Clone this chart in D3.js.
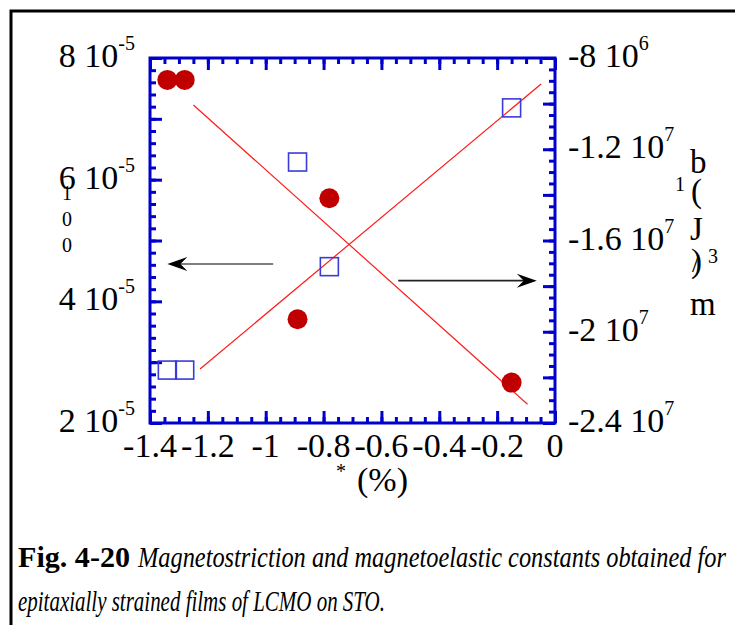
<!DOCTYPE html>
<html>
<head>
<meta charset="utf-8">
<script src="https://cdn.jsdelivr.net/npm/d3@7"></script>
<style>
  html, body { margin: 0; padding: 0; background: #fff; }
  svg { display: block; }
  text { font-family: "Liberation Serif", "Times New Roman", Times, serif; fill: #000; }
</style>
</head>
<body>
<svg id="chart" width="735" height="625"></svg>
<script>
// Strain (%) shared by both series
const strain = [-1.34, -1.28, -0.89, -0.78, -0.15];
// Magnetostriction lambda100 (left axis, open squares)
const lambda100 = [2.87e-5, 2.87e-5, 6.29e-5, 4.57e-5, 7.18e-5];
// Magnetoelastic constant b1 in J/m^3 (right axis, filled circles)
const b1 = [-8.96e6, -8.96e6, -1.945e7, -1.415e7, -2.223e7];

// Linear fit segments (end points)
const lambdaFitX = [-1.227, -0.048];
const lambdaFitY = [2.888e-5, 7.573e-5];
const b1FitX = [-1.25, -0.095];
const b1FitY = [-1.006e7, -2.318e7];

// Axis ticks and labels
const xTicks = [-1.4, -1.2, -1, -0.8, -0.6, -0.4, -0.2, 0];
const xTickLabels = ["-1.4", "-1.2", "-1", "-0.8", "-0.6", "-0.4", "-0.2", "0"];
const leftLabelTicks = [2e-5, 4e-5, 6e-5, 8e-5];
const leftMantissa = ["2", "4", "6", "8"];
const leftExponent = ["-5", "-5", "-5", "-5"];
const rightLabelTicks = [-8e6, -1.2e7, -1.6e7, -2e7, -2.4e7];
const rightMantissa = ["-8", "-1.2", "-1.6", "-2", "-2.4"];
const rightExponent = ["6", "7", "7", "7", "7"];

// Arrows pointing each series to its axis
const leftArrowX = [-0.974, -1.34];
const leftArrowY = 4.614e-5;
const rightArrowX = [-0.542, -0.063];
const rightArrowY = -1.776e7;

const svg = d3.select("#chart");
const plot = { left: 150, right: 555, top: 58, bottom: 423 };
const axisBlue = "#0000cc";

const x = d3.scaleLinear().domain([-1.4, 0]).range([plot.left, plot.right]);
const yL = d3.scaleLinear().domain([2e-5, 8e-5]).range([plot.bottom, plot.top]);
const yR = d3.scaleLinear().domain([-2.4e7, -8e6]).range([plot.bottom, plot.top]);

// Outer figure border
svg.append("path")
  .attr("d", "M11,625 L11,11 L735,11")
  .attr("fill", "none").attr("stroke", "#000").attr("stroke-width", 3);

// Tick value lists
const range = (a, b, s) => d3.range(Math.round((b - a) / s) + 1).map(i => +(a + i * s).toPrecision(10));
const xMinor = range(-1.4, 0, 0.05);
const xMajor = range(-1.4, 0, 0.2);
const yLMinor = range(2e-5, 8e-5, 0.2e-5);
const yLMajor = range(2e-5, 8e-5, 1e-5);
const yRMinor = range(-2.4e7, -8e6, 5e5);
const yRMajor = range(-2.4e7, -8e6, 2e6);

function styleAxis(g) {
  g.select(".domain").remove();
  g.selectAll(".tick line").attr("stroke", axisBlue).attr("stroke-width", 3);
  g.selectAll(".tick text").remove();
}

function addAxis(gen, tx, ty) {
  svg.append("g").attr("transform", `translate(${tx},${ty})`).call(gen).call(styleAxis);
}

// Bottom and top axes (ticks point inward)
addAxis(d3.axisBottom(x).tickValues(xMinor).tickSize(-6).tickSizeOuter(0), 0, plot.bottom);
addAxis(d3.axisBottom(x).tickValues(xMajor).tickSize(-12).tickSizeOuter(0), 0, plot.bottom);
addAxis(d3.axisTop(x).tickValues(xMinor).tickSize(-6).tickSizeOuter(0), 0, plot.top);
addAxis(d3.axisTop(x).tickValues(xMajor).tickSize(-12).tickSizeOuter(0), 0, plot.top);
// Left axis
addAxis(d3.axisLeft(yL).tickValues(yLMinor).tickSize(-6).tickSizeOuter(0), plot.left, 0);
addAxis(d3.axisLeft(yL).tickValues(yLMajor).tickSize(-12).tickSizeOuter(0), plot.left, 0);
// Right axis
addAxis(d3.axisRight(yR).tickValues(yRMinor).tickSize(-6).tickSizeOuter(0), plot.right, 0);
addAxis(d3.axisRight(yR).tickValues(yRMajor).tickSize(-12).tickSizeOuter(0), plot.right, 0);

// Frame
svg.append("rect")
  .attr("x", plot.left).attr("y", plot.top)
  .attr("width", plot.right - plot.left).attr("height", plot.bottom - plot.top)
  .attr("fill", "none").attr("stroke", axisBlue).attr("stroke-width", 3);

// Tick labels
const labelSize = 34, supSize = 20;
svg.append("g").selectAll("text").data(xTicks).join("text")
  .attr("x", d => x(d)).attr("y", 457)
  .attr("text-anchor", "middle").attr("font-size", labelSize)
  .text((d, i) => xTickLabels[i]);

const lt = svg.append("g").selectAll("text").data(leftLabelTicks).join("text")
  .attr("x", 135).attr("y", d => yL(d) + 9)
  .attr("text-anchor", "end").attr("font-size", labelSize);
lt.append("tspan").text((d, i) => leftMantissa[i] + " 10");
lt.append("tspan").attr("dy", -17).attr("font-size", supSize).text((d, i) => leftExponent[i]);

const rt = svg.append("g").selectAll("text").data(rightLabelTicks).join("text")
  .attr("x", 568).attr("y", d => yR(d) + 9)
  .attr("text-anchor", "start").attr("font-size", labelSize);
rt.append("tspan").text((d, i) => rightMantissa[i] + " 10");
rt.append("tspan").attr("dy", -17).attr("font-size", supSize).text((d, i) => rightExponent[i]);

// Axis titles
svg.append("text").attr("x", 336).attr("y", 478).attr("font-size", 20).text("*");
svg.append("text").attr("x", 357).attr("y", 491).attr("font-size", labelSize).text("(%)");

[["1", 200], ["0", 226], ["0", 252]].forEach(([c, yy]) => {
  svg.append("text").attr("x", 67).attr("y", yy).attr("text-anchor", "middle")
    .attr("font-size", 20).text(c);
});

const rTitle = [
  ["b", 690, 173, 33], ["1", 675, 191, 20], ["(", 691, 202, 33], ["J", 690, 240, 33],
  [")", 691, 272, 33], ["/", 692, 272, 26], ["3", 708, 263, 20], ["m", 690, 315, 33]
];
rTitle.forEach(([c, xx, yy, fs]) => {
  svg.append("text").attr("x", xx).attr("y", yy).attr("font-size", fs).text(c);
});

// Fit lines
const line = d3.line();
svg.append("path")
  .attr("d", line(lambdaFitX.map((d, i) => [x(d), yL(lambdaFitY[i])])))
  .attr("stroke", "#ff1a1a").attr("stroke-width", 1.2).attr("fill", "none");
svg.append("path")
  .attr("d", line(b1FitX.map((d, i) => [x(d), yR(b1FitY[i])])))
  .attr("stroke", "#ff1a1a").attr("stroke-width", 1.2).attr("fill", "none");

// b1 data: filled circles
svg.append("g").selectAll("circle").data(strain).join("circle")
  .attr("cx", d => x(d)).attr("cy", (d, i) => yR(b1[i])).attr("r", 10)
  .attr("fill", "#c00000");

// lambda100 data: open squares
const sq = 18;
svg.append("g").selectAll("rect").data(strain).join("rect")
  .attr("x", d => x(d) - sq / 2).attr("y", (d, i) => yL(lambda100[i]) - sq / 2)
  .attr("width", sq).attr("height", sq)
  .attr("fill", "none").attr("stroke", "#3b3bd8").attr("stroke-width", 1.6);

// Arrows
function arrow(x0, x1, yy, color) {
  const dir = Math.sign(x1 - x0);
  svg.append("line").attr("x1", x0).attr("x2", x1 - dir * 8).attr("y1", yy).attr("y2", yy)
    .attr("stroke", color).attr("stroke-width", 1.6);
  const L = 20, W = 7, notch = 13;
  svg.append("path")
    .attr("d", `M${x1},${yy} L${x1 - dir * L},${yy - W} L${x1 - dir * notch},${yy} L${x1 - dir * L},${yy + W} Z`)
    .attr("fill", "#000");
}
arrow(x(leftArrowX[0]), x(leftArrowX[1]), yL(leftArrowY), "#555");
arrow(x(rightArrowX[0]), x(rightArrowX[1]), yR(rightArrowY), "#222");

// Caption (condensed serif, fitted to its line widths)
svg.append("text").attr("x", 18).attr("y", 567).attr("font-size", 30)
  .attr("font-weight", "bold")
  .attr("textLength", 112).attr("lengthAdjust", "spacingAndGlyphs")
  .text("Fig. 4-20");
svg.append("text").attr("x", 138).attr("y", 567).attr("font-size", 29)
  .attr("font-style", "italic")
  .attr("textLength", 588).attr("lengthAdjust", "spacingAndGlyphs")
  .text("Magnetostriction and magnetoelastic constants obtained for");
svg.append("text").attr("x", 18).attr("y", 611).attr("font-size", 29)
  .attr("font-style", "italic")
  .attr("textLength", 367).attr("lengthAdjust", "spacingAndGlyphs")
  .text("epitaxially strained films of LCMO on STO.");
</script>
</body>
</html>
